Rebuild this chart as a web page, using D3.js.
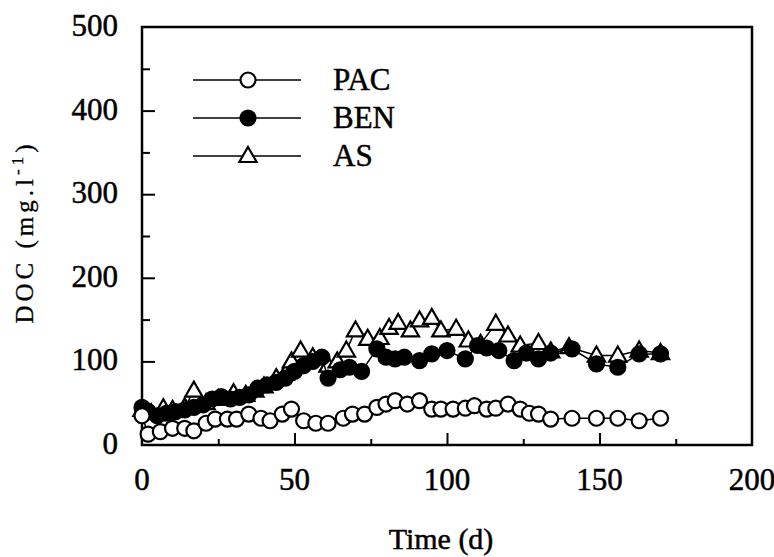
<!DOCTYPE html>
<html>
<head>
<meta charset="utf-8">
<script src="https://cdn.jsdelivr.net/npm/d3@7"></script>
<style>
  body { margin: 0; background: #fff; }
  text { font-family: "Liberation Serif", "DejaVu Serif", serif; fill: #000; stroke: #000; stroke-width: 0.5px; }
</style>
</head>
<body>
<div class="doc-chart"></div>
<script>
const WIDTH = 774,
    HEIGHT = 557,
    LEFT = 142, RIGHT = 752, TOP = 27, BOTTOM = 445;

// data
const pacDays = [0, 2, 6, 10, 14, 17, 21, 24, 28, 31, 35, 39, 42, 46, 49, 53, 57, 61, 66, 69, 73, 77, 80, 83, 87, 91, 95, 98, 102, 106, 109, 113, 116, 120, 124, 127, 130, 134, 141, 149, 156, 163, 170];
const pacValues = [35, 13, 16, 20, 20, 17, 26, 31, 31, 31, 37, 32, 29, 37, 43, 29, 26, 26, 32, 37, 37, 45, 49, 53, 49, 53, 43, 43, 43, 44, 47, 43, 44, 49, 43, 38, 37, 31, 32, 32, 32, 29, 32];

const benDays = [0, 2, 5, 8, 11, 14, 17, 20, 23, 26, 29, 32, 35, 38, 41, 44, 47, 50, 53, 56, 59, 61, 65, 68, 72, 77, 80, 83, 86, 91, 95, 100, 106, 110, 113, 117, 122, 126, 130, 134, 141, 149, 156, 163, 170];
const benValues = [45, 40, 35, 38, 40, 42, 45, 48, 55, 58, 55, 57, 60, 68, 72, 75, 80, 88, 95, 100, 105, 80, 90, 93, 88, 115, 105, 103, 105, 101, 109, 113, 103, 119, 116, 113, 101, 110, 103, 110, 115, 97, 93, 109, 109];

const asDays = [0, 3, 7, 10, 14, 17, 21, 25, 30, 34, 37, 40, 44, 47, 49, 52, 56, 61, 64, 67, 70, 74, 78, 81, 84, 88, 91, 95, 98, 103, 107, 111, 116, 120, 124, 130, 134, 140, 149, 156, 163, 170];
const asValues = [42, 38, 44, 42, 45, 65, 50, 55, 62, 60, 65, 70, 80, 85, 100, 113, 105, 95, 100, 113, 137, 127, 128, 140, 146, 137, 149, 152, 137, 139, 125, 121, 145, 131, 119, 122, 112, 117, 107, 107, 113, 110];

const xTicks = [0, 50, 100, 150, 200];
const yTicks = [0, 100, 200, 300, 400, 500];
const legendNames = ["PAC", "BEN", "AS"];

const svg = d3.select(".doc-chart")
    .append("svg")
    .attr("width", WIDTH)
    .attr("height", HEIGHT);

const x = d3.scaleLinear().domain([0, 200]).range([LEFT, RIGHT]);
const y = d3.scaleLinear().domain([0, 500]).range([BOTTOM, TOP]);

// axes, ticks pointing inward
svg.append("g")
    .attr("transform", `translate(0,${BOTTOM})`)
    .call(d3.axisTop(x).tickValues(d3.range(25, 200, 25)).tickSize(0).tickFormat(""))
    .call(g => g.select(".domain").remove())
    .call(g => g.selectAll(".tick line").attr("y2", d => d % 50 === 0 ? -12 : -6)
        .attr("stroke", "#000").attr("stroke-width", 2));

svg.append("g")
    .attr("transform", `translate(${LEFT},0)`)
    .call(d3.axisRight(y).tickValues(d3.range(50, 500, 50)).tickSize(0).tickFormat(""))
    .call(g => g.select(".domain").remove())
    .call(g => g.selectAll(".tick line").attr("x2", d => d % 100 === 0 ? 13 : 8)
        .attr("stroke", "#000").attr("stroke-width", 2));

// frame
svg.append("rect")
    .attr("x", LEFT)
    .attr("y", TOP)
    .attr("width", RIGHT - LEFT)
    .attr("height", BOTTOM - TOP)
    .attr("fill", "none")
    .attr("stroke", "#000")
    .attr("stroke-width", 2.5);

// tick labels
svg.append("g").selectAll("text")
    .data(xTicks)
    .join("text")
    .attr("x", d => x(d))
    .attr("y", 490)
    .attr("text-anchor", "middle")
    .style("font-size", "31px")
    .text(d => d);

svg.append("g").selectAll("text")
    .data(yTicks)
    .join("text")
    .attr("x", 118)
    .attr("y", d => y(d) + 9)
    .attr("text-anchor", "end")
    .style("font-size", "31px")
    .text(d => d);

// axis titles
svg.append("text")
    .attr("x", 441)
    .attr("y", 549)
    .attr("text-anchor", "middle")
    .style("font-size", "30px")
    .text("Time (d)");

const yLabel = svg.append("text")
    .attr("transform", "translate(33,232) rotate(-90)")
    .attr("text-anchor", "middle")
    .style("font-size", "25px")
    .style("stroke-width", "0.3px")
    .style("letter-spacing", "4px");
yLabel.append("tspan").text("DOC (mg.l");
yLabel.append("tspan").attr("dy", -10).style("font-size", "17px").text("-1");
yLabel.append("tspan").attr("dy", 10).text(")");

// series
const series = [
    { days: pacDays, values: pacValues, shape: "circle", fill: "#fff" },
    { days: benDays, values: benValues, shape: "circle", fill: "#000" },
    { days: asDays, values: asValues, shape: "triangle", fill: "#fff" }
];

const line = d3.line().x(d => x(d[0])).y(d => y(d[1]));
const triangle = d3.symbol().type(d3.symbolTriangle).size(130);

function drawMarker(g, s, cx, cy) {
    if (s.shape === "circle") {
        g.append("circle")
            .attr("cx", cx).attr("cy", cy).attr("r", 7.5)
            .attr("fill", s.fill).attr("stroke", "#000").attr("stroke-width", 2.2);
    } else {
        g.append("path")
            .attr("d", triangle())
            .attr("transform", `translate(${cx},${cy + 1})`)
            .attr("fill", s.fill).attr("stroke", "#000").attr("stroke-width", 2.2);
    }
}

// draw AS first so the others sit on top, like the original
[series[2], series[1], series[0]].forEach(s => {
    const pts = s.days.map((d, i) => [d, s.values[i]]);
    const g = svg.append("g");
    g.append("path")
        .attr("d", line(pts))
        .attr("fill", "none")
        .attr("stroke", "#000")
        .attr("stroke-width", 1.5);
    pts.forEach(p => drawMarker(g, s, x(p[0]), y(p[1])));
});

// legend
const legend = svg.append("g");
series.forEach((s, i) => {
    const ly = 80 + i * 38;
    legend.append("line")
        .attr("x1", 193).attr("x2", 301)
        .attr("y1", ly).attr("y2", ly)
        .attr("stroke", "#000").attr("stroke-width", 1.5);
    drawMarker(legend, s, 248, ly);
    legend.append("text")
        .attr("x", 333)
        .attr("y", ly + 10)
        .style("font-size", "31px")
        .text(legendNames[i]);
});
</script>
</body>
</html>
